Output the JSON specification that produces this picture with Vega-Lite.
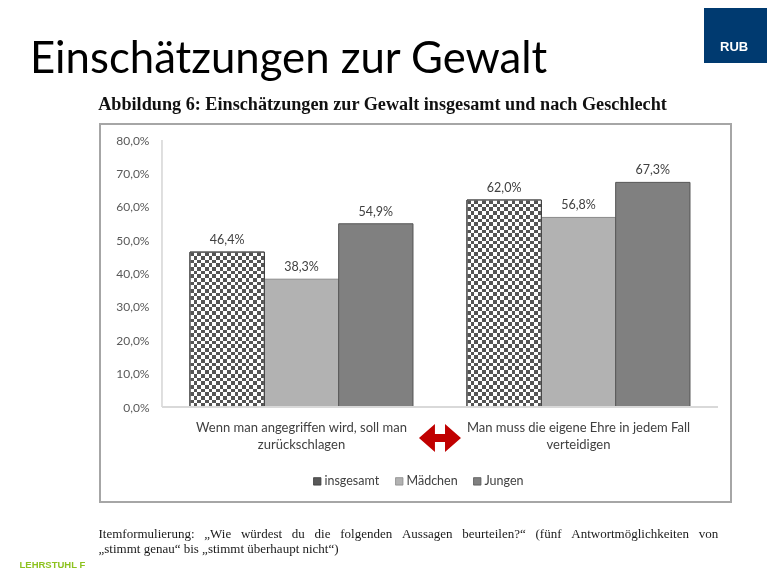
{
  "$schema": "https://vega.github.io/schema/vega-lite/v6.json",
  "autosize": "none",
  "width": 631,
  "height": 378,
  "padding": {"left": 100, "top": 124, "right": 36, "bottom": 79},
  "background": "#ffffff",
  "view": {"stroke": "#a6a6a6", "strokeWidth": 2, "fill": "#ffffff"},
  "config": {
    "font": "Lato",
    "locale": {"number": {"decimal": ",", "thousands": ".", "grouping": [3], "currency": ["", " €"]}}
  },
  "title": {
    "text": "Einschätzungen zur Gewalt",
    "subtitle": "\u200d\u00a0\u00a0\u00a0\u00a0\u00a0\u00a0\u00a0\u00a0\u00a0\u00a0\u00a0\u00a0\u00a0\u00a0\u00a0Abbildung 6: Einschätzungen zur Gewalt insgesamt und nach Geschlecht",
    "anchor": "start",
    "frame": "group",
    "dx": -70,
    "dy": 117,
    "font": "Lato",
    "fontSize": 43.7,
    "fontWeight": "normal",
    "color": "#000000",
    "subtitleFont": "Liberation Serif",
    "subtitleFontSize": 18.2,
    "subtitleFontWeight": "bold",
    "subtitleColor": "#111111",
    "subtitlePadding": 14,
    "offset": 12
  },
  "data": {
    "values": [
      {"Frage": "Wenn man angegriffen wird, soll man zurückschlagen", "Gruppe": "insgesamt", "Wert": 0.464},
      {"Frage": "Wenn man angegriffen wird, soll man zurückschlagen", "Gruppe": "Mädchen", "Wert": 0.383},
      {"Frage": "Wenn man angegriffen wird, soll man zurückschlagen", "Gruppe": "Jungen", "Wert": 0.549},
      {"Frage": "Man muss die eigene Ehre in jedem Fall verteidigen", "Gruppe": "insgesamt", "Wert": 0.620},
      {"Frage": "Man muss die eigene Ehre in jedem Fall verteidigen", "Gruppe": "Mädchen", "Wert": 0.568},
      {"Frage": "Man muss die eigene Ehre in jedem Fall verteidigen", "Gruppe": "Jungen", "Wert": 0.673}
    ]
  },
  "layer": [
    {
      "encoding": {
        "x": {
          "field": "Frage",
          "type": "nominal",
          "sort": null,
          "scale": {
            "domain": ["Wenn man angegriffen wird, soll man zurückschlagen", "Man muss die eigene Ehre in jedem Fall verteidigen"],
            "paddingInner": 0.19495,
            "paddingOuter": 0.23646,
            "align": 0.687
          },
          "axis": {
            "orient": "bottom",
            "offset": -95,
            "domain": false,
            "ticks": false,
            "tickSize": 0,
            "grid": false,
            "labelPadding": 14,
            "labelAngle": 0,
            "labelFont": "Lato",
            "labelFontSize": 13,
            "labelColor": "#404040",
            "labelLineHeight": 17,
            "labelLimit": 400,
            "labelExpr": "datum.value == 'Wenn man angegriffen wird, soll man zurückschlagen' ? ['Wenn man angegriffen wird, soll man', 'zurückschlagen'] : ['Man muss die eigene Ehre in jedem Fall', 'verteidigen']",
            "title": ["Itemformulierung: \u00a0\u00a0„Wie \u00a0\u00a0würdest \u00a0\u00a0du \u00a0\u00a0die \u00a0\u00a0folgenden \u00a0\u00a0Aussagen \u00a0\u00a0beurteilen?“ \u00a0\u00a0(fünf \u00a0\u00a0Antwortmöglichkeiten \u00a0\u00a0von", "„stimmt genau“ bis „stimmt überhaupt nicht“)"],
            "titleX": -2,
            "titleY": 130,
            "titleAlign": "left",
            "titleAnchor": "start",
            "titleBaseline": "alphabetic",
            "titleFont": "Liberation Serif",
            "titleFontSize": 13,
            "titleFontWeight": "normal",
            "titleColor": "#1a1a1a",
            "titleLineHeight": 15.5
          }
        },
        "xOffset": {
          "field": "Gruppe",
          "type": "nominal",
          "sort": null,
          "scale": {"domain": ["insgesamt", "Mädchen", "Jungen"], "paddingInner": 0, "paddingOuter": 0}
        },
        "y": {
          "field": "Wert",
          "type": "quantitative",
          "scale": {"domain": [-0.28464, 0.84794], "nice": false, "zero": false},
          "axis": {
            "orient": "left",
            "offset": -62,
            "values": [0, 0.1, 0.2, 0.3, 0.4, 0.5, 0.6, 0.7, 0.8],
            "format": ".1%",
            "domain": false,
            "ticks": false,
            "tickSize": 0,
            "grid": false,
            "labelPadding": 13,
            "labelFont": "Lato",
            "labelFontSize": 12,
            "labelColor": "#595959",
            "title": "LEHRSTUHL F",
            "titleX": -143,
            "titleY": 443,
            "titleAngle": 0,
            "titleAlign": "left",
            "titleBaseline": "alphabetic",
            "titleFont": "Liberation Sans",
            "titleFontSize": 9.5,
            "titleFontWeight": "bold",
            "titleColor": "#8dc21f"
          }
        }
      },
      "layer": [
        {
          "mark": {"type": "bar", "strokeWidth": 1},
          "encoding": {
            "color": {
              "condition": {
                "test": "datum.Gruppe == 'insgesamt'",
                "value": {"gradient": "linear", "x1": 0, "y1": 0, "x2": 1, "y2": 0, "stops": [
                  {"offset": 0, "color": "#ffffff"}, {"offset": 0.05, "color": "#ffffff"}, {"offset": 0.05, "color": "#000000"}, {"offset": 0.1, "color": "#000000"},
                  {"offset": 0.1, "color": "#ffffff"}, {"offset": 0.15, "color": "#ffffff"}, {"offset": 0.15, "color": "#000000"}, {"offset": 0.2, "color": "#000000"},
                  {"offset": 0.2, "color": "#ffffff"}, {"offset": 0.25, "color": "#ffffff"}, {"offset": 0.25, "color": "#000000"}, {"offset": 0.3, "color": "#000000"},
                  {"offset": 0.3, "color": "#ffffff"}, {"offset": 0.35, "color": "#ffffff"}, {"offset": 0.35, "color": "#000000"}, {"offset": 0.4, "color": "#000000"},
                  {"offset": 0.4, "color": "#ffffff"}, {"offset": 0.45, "color": "#ffffff"}, {"offset": 0.45, "color": "#000000"}, {"offset": 0.5, "color": "#000000"},
                  {"offset": 0.5, "color": "#ffffff"}, {"offset": 0.55, "color": "#ffffff"}, {"offset": 0.55, "color": "#000000"}, {"offset": 0.6, "color": "#000000"},
                  {"offset": 0.6, "color": "#ffffff"}, {"offset": 0.65, "color": "#ffffff"}, {"offset": 0.65, "color": "#000000"}, {"offset": 0.7, "color": "#000000"},
                  {"offset": 0.7, "color": "#ffffff"}, {"offset": 0.75, "color": "#ffffff"}, {"offset": 0.75, "color": "#000000"}, {"offset": 0.8, "color": "#000000"},
                  {"offset": 0.8, "color": "#ffffff"}, {"offset": 0.85, "color": "#ffffff"}, {"offset": 0.85, "color": "#000000"}, {"offset": 0.9, "color": "#000000"},
                  {"offset": 0.9, "color": "#ffffff"}, {"offset": 0.95, "color": "#ffffff"}, {"offset": 0.95, "color": "#000000"}, {"offset": 1, "color": "#000000"}
                ]}
              },
              "field": "Gruppe",
              "type": "nominal",
              "scale": {"domain": ["insgesamt", "Mädchen", "Jungen"], "range": ["#595959", "#b2b2b2", "#808080"]},
              "legend": {
                "orient": "none",
                "legendX": 211,
                "legendY": 351,
                "direction": "horizontal",
                "title": null,
                "symbolType": "square",
                "symbolSize": 55,
                "symbolStrokeColor": "#7f7f7f",
                "symbolStrokeWidth": 0.8,
                "labelFont": "Lato",
                "labelFontSize": 12.5,
                "labelColor": "#404040",
                "labelOffset": 1,
                "columnPadding": 13
              }
            },
            "stroke": {
              "field": "Gruppe",
              "type": "nominal",
              "scale": {"domain": ["insgesamt", "Mädchen", "Jungen"], "range": ["#3a3a3a", "#8a8a8a", "#555555"]},
              "legend": null
            }
          }
        },
        {
          "transform": [{"filter": "datum.Gruppe == 'insgesamt'"}],
          "mark": {"type": "bar", "blend": "difference", "strokeWidth": 0},
          "encoding": {
            "fill": {
              "condition": {
                "test": "datum.Frage == 'Wenn man angegriffen wird, soll man zurückschlagen'",
                "value": {"gradient": "linear", "x1": 0, "y1": 0, "x2": 0, "y2": 1, "stops": [
                  {"offset": 0, "color": "#ffffff"}, {"offset": 0.02381, "color": "#ffffff"}, {"offset": 0.02381, "color": "rgba(255,255,255,0)"}, {"offset": 0.047619, "color": "rgba(255,255,255,0)"},
                  {"offset": 0.047619, "color": "#ffffff"}, {"offset": 0.071429, "color": "#ffffff"}, {"offset": 0.071429, "color": "rgba(255,255,255,0)"}, {"offset": 0.095238, "color": "rgba(255,255,255,0)"},
                  {"offset": 0.095238, "color": "#ffffff"}, {"offset": 0.119048, "color": "#ffffff"}, {"offset": 0.119048, "color": "rgba(255,255,255,0)"}, {"offset": 0.142857, "color": "rgba(255,255,255,0)"},
                  {"offset": 0.142857, "color": "#ffffff"}, {"offset": 0.166667, "color": "#ffffff"}, {"offset": 0.166667, "color": "rgba(255,255,255,0)"}, {"offset": 0.190476, "color": "rgba(255,255,255,0)"},
                  {"offset": 0.190476, "color": "#ffffff"}, {"offset": 0.214286, "color": "#ffffff"}, {"offset": 0.214286, "color": "rgba(255,255,255,0)"}, {"offset": 0.238095, "color": "rgba(255,255,255,0)"},
                  {"offset": 0.238095, "color": "#ffffff"}, {"offset": 0.261905, "color": "#ffffff"}, {"offset": 0.261905, "color": "rgba(255,255,255,0)"}, {"offset": 0.285714, "color": "rgba(255,255,255,0)"},
                  {"offset": 0.285714, "color": "#ffffff"}, {"offset": 0.309524, "color": "#ffffff"}, {"offset": 0.309524, "color": "rgba(255,255,255,0)"}, {"offset": 0.333333, "color": "rgba(255,255,255,0)"},
                  {"offset": 0.333333, "color": "#ffffff"}, {"offset": 0.357143, "color": "#ffffff"}, {"offset": 0.357143, "color": "rgba(255,255,255,0)"}, {"offset": 0.380952, "color": "rgba(255,255,255,0)"},
                  {"offset": 0.380952, "color": "#ffffff"}, {"offset": 0.404762, "color": "#ffffff"}, {"offset": 0.404762, "color": "rgba(255,255,255,0)"}, {"offset": 0.428571, "color": "rgba(255,255,255,0)"},
                  {"offset": 0.428571, "color": "#ffffff"}, {"offset": 0.452381, "color": "#ffffff"}, {"offset": 0.452381, "color": "rgba(255,255,255,0)"}, {"offset": 0.47619, "color": "rgba(255,255,255,0)"},
                  {"offset": 0.47619, "color": "#ffffff"}, {"offset": 0.5, "color": "#ffffff"}, {"offset": 0.5, "color": "rgba(255,255,255,0)"}, {"offset": 0.52381, "color": "rgba(255,255,255,0)"},
                  {"offset": 0.52381, "color": "#ffffff"}, {"offset": 0.547619, "color": "#ffffff"}, {"offset": 0.547619, "color": "rgba(255,255,255,0)"}, {"offset": 0.571429, "color": "rgba(255,255,255,0)"},
                  {"offset": 0.571429, "color": "#ffffff"}, {"offset": 0.595238, "color": "#ffffff"}, {"offset": 0.595238, "color": "rgba(255,255,255,0)"}, {"offset": 0.619048, "color": "rgba(255,255,255,0)"},
                  {"offset": 0.619048, "color": "#ffffff"}, {"offset": 0.642857, "color": "#ffffff"}, {"offset": 0.642857, "color": "rgba(255,255,255,0)"}, {"offset": 0.666667, "color": "rgba(255,255,255,0)"},
                  {"offset": 0.666667, "color": "#ffffff"}, {"offset": 0.690476, "color": "#ffffff"}, {"offset": 0.690476, "color": "rgba(255,255,255,0)"}, {"offset": 0.714286, "color": "rgba(255,255,255,0)"},
                  {"offset": 0.714286, "color": "#ffffff"}, {"offset": 0.738095, "color": "#ffffff"}, {"offset": 0.738095, "color": "rgba(255,255,255,0)"}, {"offset": 0.761905, "color": "rgba(255,255,255,0)"},
                  {"offset": 0.761905, "color": "#ffffff"}, {"offset": 0.785714, "color": "#ffffff"}, {"offset": 0.785714, "color": "rgba(255,255,255,0)"}, {"offset": 0.809524, "color": "rgba(255,255,255,0)"},
                  {"offset": 0.809524, "color": "#ffffff"}, {"offset": 0.833333, "color": "#ffffff"}, {"offset": 0.833333, "color": "rgba(255,255,255,0)"}, {"offset": 0.857143, "color": "rgba(255,255,255,0)"},
                  {"offset": 0.857143, "color": "#ffffff"}, {"offset": 0.880952, "color": "#ffffff"}, {"offset": 0.880952, "color": "rgba(255,255,255,0)"}, {"offset": 0.904762, "color": "rgba(255,255,255,0)"},
                  {"offset": 0.904762, "color": "#ffffff"}, {"offset": 0.928571, "color": "#ffffff"}, {"offset": 0.928571, "color": "rgba(255,255,255,0)"}, {"offset": 0.952381, "color": "rgba(255,255,255,0)"},
                  {"offset": 0.952381, "color": "#ffffff"}, {"offset": 0.97619, "color": "#ffffff"}, {"offset": 0.97619, "color": "rgba(255,255,255,0)"}, {"offset": 1, "color": "rgba(255,255,255,0)"}
                ]}
              },
              "value": {"gradient": "linear", "x1": 0, "y1": 0, "x2": 0, "y2": 1, "stops": [
                {"offset": 0, "color": "#ffffff"}, {"offset": 0.017857, "color": "#ffffff"}, {"offset": 0.017857, "color": "rgba(255,255,255,0)"}, {"offset": 0.035714, "color": "rgba(255,255,255,0)"},
                {"offset": 0.035714, "color": "#ffffff"}, {"offset": 0.053571, "color": "#ffffff"}, {"offset": 0.053571, "color": "rgba(255,255,255,0)"}, {"offset": 0.071429, "color": "rgba(255,255,255,0)"},
                {"offset": 0.071429, "color": "#ffffff"}, {"offset": 0.089286, "color": "#ffffff"}, {"offset": 0.089286, "color": "rgba(255,255,255,0)"}, {"offset": 0.107143, "color": "rgba(255,255,255,0)"},
                {"offset": 0.107143, "color": "#ffffff"}, {"offset": 0.125, "color": "#ffffff"}, {"offset": 0.125, "color": "rgba(255,255,255,0)"}, {"offset": 0.142857, "color": "rgba(255,255,255,0)"},
                {"offset": 0.142857, "color": "#ffffff"}, {"offset": 0.160714, "color": "#ffffff"}, {"offset": 0.160714, "color": "rgba(255,255,255,0)"}, {"offset": 0.178571, "color": "rgba(255,255,255,0)"},
                {"offset": 0.178571, "color": "#ffffff"}, {"offset": 0.196429, "color": "#ffffff"}, {"offset": 0.196429, "color": "rgba(255,255,255,0)"}, {"offset": 0.214286, "color": "rgba(255,255,255,0)"},
                {"offset": 0.214286, "color": "#ffffff"}, {"offset": 0.232143, "color": "#ffffff"}, {"offset": 0.232143, "color": "rgba(255,255,255,0)"}, {"offset": 0.25, "color": "rgba(255,255,255,0)"},
                {"offset": 0.25, "color": "#ffffff"}, {"offset": 0.267857, "color": "#ffffff"}, {"offset": 0.267857, "color": "rgba(255,255,255,0)"}, {"offset": 0.285714, "color": "rgba(255,255,255,0)"},
                {"offset": 0.285714, "color": "#ffffff"}, {"offset": 0.303571, "color": "#ffffff"}, {"offset": 0.303571, "color": "rgba(255,255,255,0)"}, {"offset": 0.321429, "color": "rgba(255,255,255,0)"},
                {"offset": 0.321429, "color": "#ffffff"}, {"offset": 0.339286, "color": "#ffffff"}, {"offset": 0.339286, "color": "rgba(255,255,255,0)"}, {"offset": 0.357143, "color": "rgba(255,255,255,0)"},
                {"offset": 0.357143, "color": "#ffffff"}, {"offset": 0.375, "color": "#ffffff"}, {"offset": 0.375, "color": "rgba(255,255,255,0)"}, {"offset": 0.392857, "color": "rgba(255,255,255,0)"},
                {"offset": 0.392857, "color": "#ffffff"}, {"offset": 0.410714, "color": "#ffffff"}, {"offset": 0.410714, "color": "rgba(255,255,255,0)"}, {"offset": 0.428571, "color": "rgba(255,255,255,0)"},
                {"offset": 0.428571, "color": "#ffffff"}, {"offset": 0.446429, "color": "#ffffff"}, {"offset": 0.446429, "color": "rgba(255,255,255,0)"}, {"offset": 0.464286, "color": "rgba(255,255,255,0)"},
                {"offset": 0.464286, "color": "#ffffff"}, {"offset": 0.482143, "color": "#ffffff"}, {"offset": 0.482143, "color": "rgba(255,255,255,0)"}, {"offset": 0.5, "color": "rgba(255,255,255,0)"},
                {"offset": 0.5, "color": "#ffffff"}, {"offset": 0.517857, "color": "#ffffff"}, {"offset": 0.517857, "color": "rgba(255,255,255,0)"}, {"offset": 0.535714, "color": "rgba(255,255,255,0)"},
                {"offset": 0.535714, "color": "#ffffff"}, {"offset": 0.553571, "color": "#ffffff"}, {"offset": 0.553571, "color": "rgba(255,255,255,0)"}, {"offset": 0.571429, "color": "rgba(255,255,255,0)"},
                {"offset": 0.571429, "color": "#ffffff"}, {"offset": 0.589286, "color": "#ffffff"}, {"offset": 0.589286, "color": "rgba(255,255,255,0)"}, {"offset": 0.607143, "color": "rgba(255,255,255,0)"},
                {"offset": 0.607143, "color": "#ffffff"}, {"offset": 0.625, "color": "#ffffff"}, {"offset": 0.625, "color": "rgba(255,255,255,0)"}, {"offset": 0.642857, "color": "rgba(255,255,255,0)"},
                {"offset": 0.642857, "color": "#ffffff"}, {"offset": 0.660714, "color": "#ffffff"}, {"offset": 0.660714, "color": "rgba(255,255,255,0)"}, {"offset": 0.678571, "color": "rgba(255,255,255,0)"},
                {"offset": 0.678571, "color": "#ffffff"}, {"offset": 0.696429, "color": "#ffffff"}, {"offset": 0.696429, "color": "rgba(255,255,255,0)"}, {"offset": 0.714286, "color": "rgba(255,255,255,0)"},
                {"offset": 0.714286, "color": "#ffffff"}, {"offset": 0.732143, "color": "#ffffff"}, {"offset": 0.732143, "color": "rgba(255,255,255,0)"}, {"offset": 0.75, "color": "rgba(255,255,255,0)"},
                {"offset": 0.75, "color": "#ffffff"}, {"offset": 0.767857, "color": "#ffffff"}, {"offset": 0.767857, "color": "rgba(255,255,255,0)"}, {"offset": 0.785714, "color": "rgba(255,255,255,0)"},
                {"offset": 0.785714, "color": "#ffffff"}, {"offset": 0.803571, "color": "#ffffff"}, {"offset": 0.803571, "color": "rgba(255,255,255,0)"}, {"offset": 0.821429, "color": "rgba(255,255,255,0)"},
                {"offset": 0.821429, "color": "#ffffff"}, {"offset": 0.839286, "color": "#ffffff"}, {"offset": 0.839286, "color": "rgba(255,255,255,0)"}, {"offset": 0.857143, "color": "rgba(255,255,255,0)"},
                {"offset": 0.857143, "color": "#ffffff"}, {"offset": 0.875, "color": "#ffffff"}, {"offset": 0.875, "color": "rgba(255,255,255,0)"}, {"offset": 0.892857, "color": "rgba(255,255,255,0)"},
                {"offset": 0.892857, "color": "#ffffff"}, {"offset": 0.910714, "color": "#ffffff"}, {"offset": 0.910714, "color": "rgba(255,255,255,0)"}, {"offset": 0.928571, "color": "rgba(255,255,255,0)"},
                {"offset": 0.928571, "color": "#ffffff"}, {"offset": 0.946429, "color": "#ffffff"}, {"offset": 0.946429, "color": "rgba(255,255,255,0)"}, {"offset": 0.964286, "color": "rgba(255,255,255,0)"},
                {"offset": 0.964286, "color": "#ffffff"}, {"offset": 0.982143, "color": "#ffffff"}, {"offset": 0.982143, "color": "rgba(255,255,255,0)"}, {"offset": 1, "color": "rgba(255,255,255,0)"}
              ]}
            }
          }
        },
        {
          "transform": [{"filter": "datum.Gruppe == 'insgesamt'"}],
          "mark": {"type": "bar", "fill": "#ffffff", "fillOpacity": 0.33, "stroke": "#3a3a3a", "strokeWidth": 1}
        },
        {
          "mark": {"type": "text", "baseline": "alphabetic", "dy": -8, "font": "Lato", "fontSize": 12.5, "color": "#404040"},
          "encoding": {
            "text": {"field": "Wert", "type": "quantitative", "format": ".1%"}
          }
        }
      ]
    },
    {
      "data": {"values": [{}]},
      "mark": {"type": "rule", "color": "#bfbfbf", "strokeWidth": 1},
      "encoding": {
        "x": {"datum": "Wenn man angegriffen wird, soll man zurückschlagen", "bandPosition": -0.1256},
        "y": {"datum": 0},
        "y2": {"datum": 0.8}
      }
    },
    {
      "data": {"values": [{}]},
      "mark": {"type": "rule", "color": "#d9d9d9", "strokeWidth": 2},
      "encoding": {
        "x": {"datum": "Wenn man angegriffen wird, soll man zurückschlagen", "bandPosition": -0.1256},
        "x2": {"datum": "Man muss die eigene Ehre in jedem Fall verteidigen", "bandPosition": 1.1256},
        "y": {"datum": 0}
      }
    },
    {
      "data": {"values": [{}]},
      "mark": {"type": "point", "filled": true, "fill": "#c00000", "opacity": 1, "size": 1764, "strokeWidth": 0},
      "encoding": {
        "x": {"datum": "Wenn man angegriffen wird, soll man zurückschlagen", "bandPosition": 1.121},
        "y": {"datum": -0.093},
        "shape": {
          "datum": "RUB",
          "type": "nominal",
          "scale": {"range": ["M-1,0L-0.24,-0.67L-0.24,-0.19L0.24,-0.19L0.24,-0.67L1,0L0.24,0.67L0.24,0.19L-0.24,0.19L-0.24,0.67Z"]},
          "legend": {
            "orient": "none",
            "legendX": 604,
            "legendY": -116,
            "title": null,
            "fillColor": "#003a70",
            "padding": 4,
            "symbolOpacity": 0,
            "symbolSize": 3025,
            "labelOffset": -45,
            "labelBaseline": "top",
            "labelFont": "Liberation Sans",
            "labelFontSize": 13,
            "labelFontWeight": "bold",
            "labelColor": "#ffffff"
          }
        }
      }
    }
  ]
}
